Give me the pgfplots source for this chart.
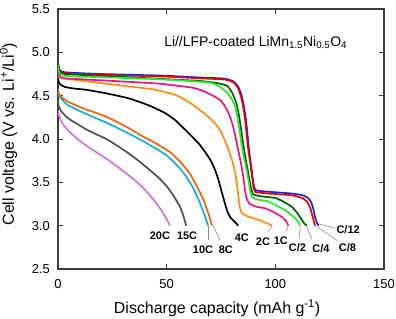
\documentclass[border=0pt]{standalone}
\usepackage{fontspec}
\setmainfont{Liberation Sans}
\usepackage{pgfplots}
\pgfplotsset{compat=1.18}
\definecolor{cC12}{RGB}{35,35,200}
\definecolor{cC8}{RGB}{230,0,0}
\definecolor{cC4}{RGB}{0,95,0}
\definecolor{cC2}{RGB}{40,230,40}
\definecolor{c1C}{RGB}{235,20,130}
\definecolor{c2C}{RGB}{255,140,20}
\definecolor{c4C}{RGB}{0,0,0}
\definecolor{c8C}{RGB}{240,100,10}
\definecolor{c10C}{RGB}{20,170,230}
\definecolor{c15C}{RGB}{80,80,80}
\definecolor{c20C}{RGB}{215,115,215}
\definecolor{axisgray}{RGB}{60,60,60}
\definecolor{leadgray}{RGB}{140,140,140}
\tikzset{
  lab/.style={font=\fontsize{11}{11}\selectfont\bfseries, inner sep=0pt, anchor=center},
  leader/.style={leadgray, line width=0.6pt},
}
\begin{document}
\begin{tikzpicture}
\begin{axis}[
  at={(0,0)}, anchor=south west,
  width=326bp, height=260bp, scale only axis,
  xmin=0, xmax=150, ymin=2.5, ymax=5.5,
  xtick={0,50,100,150}, ytick={2.5,3,3.5,4,4.5,5,5.5},
  /pgf/number format/assume math mode=true,
  tick align=inside, major tick length=5bp,
  tick style={line width=1pt, color=axisgray},
  axis line style={line width=1.4pt, color=axisgray},
  ticklabel style={font=\fontsize{13}{13}\selectfont},
  xticklabel style={yshift=-7bp},
  yticklabel style={xshift=-4.7bp, /pgf/number format/fixed, /pgf/number format/fixed zerofill, /pgf/number format/precision=1},
  label style={font=\fontsize{16}{16}\selectfont},
  xlabel={Discharge capacity (mAh g\textsuperscript{-1})},
  ylabel={Cell voltage (V vs. Li\textsuperscript{+}/Li\textsuperscript{0})},
  xlabel style={at={(axis description cs:0.488,-0.173)}, anchor=base},
  ylabel style={at={(axis description cs:-0.135,0.519)}, anchor=base},
  every axis plot/.append style={line width=1.7pt, no markers, smooth, tension=0.3},
]
% 20C
\addplot[c20C] coordinates {(0,4.33) (0.3,4.28) (2,4.18) (4.6,4.10) (9,4.00) (13.8,3.91) (23,3.76) (30,3.63) (35,3.53) (39,3.44) (42.3,3.35) (45.5,3.25) (48.5,3.14) (50.3,3.06) (51.5,3.0)};
% 15C
\addplot[c15C] coordinates {(0,4.44) (0.3,4.38) (1.5,4.32) (4.6,4.24) (9,4.17) (13.8,4.10) (18,4.05) (23,3.99) (28,3.91) (32.2,3.84) (37,3.75) (42.3,3.64) (46,3.56) (50.2,3.45) (53,3.35) (56.1,3.22) (57.5,3.13) (58.4,3.05) (59,3.0)};
% 10C
\addplot[c10C] coordinates {(0,4.54) (0.4,4.50) (2,4.45) (4.6,4.39) (12,4.30) (23,4.18) (32,4.07) (38,3.99) (45,3.89) (50,3.81) (55,3.69) (59.2,3.56) (62.5,3.42) (65.3,3.26) (67.5,3.12) (69.1,3.0)};
% 8C
\addplot[c8C] coordinates {(0,4.58) (0.4,4.52) (1.8,4.48) (4.6,4.43) (12,4.35) (22,4.26) (30,4.16) (35,4.09) (39,4.03) (43,3.98) (47,3.92) (51.5,3.85) (56.1,3.74) (60.7,3.60) (63.8,3.46) (66.9,3.30) (68.4,3.20) (69.8,3.09) (70.9,3.0)};
% 4C
\addplot[c4C] coordinates {(0,4.72) (0.3,4.66) (1,4.63) (3.2,4.60) (8,4.58) (12.4,4.57) (21.6,4.53) (32.4,4.47) (41.6,4.39) (49.2,4.30) (53.8,4.22) (58.4,4.11) (62,4.02) (65,3.94) (68,3.84) (70.5,3.74) (72.3,3.64) (73.8,3.53) (75,3.42) (76.1,3.32) (77,3.24) (78,3.16) (79.5,3.09) (81.5,3.04) (83,3.0)};
% 2C
\addplot[c2C] coordinates {(0,4.76) (0.4,4.72) (2,4.70) (5,4.69) (12,4.67) (21.6,4.64) (35,4.60) (44.6,4.57) (53.8,4.51) (58,4.46) (62.3,4.39) (66,4.32) (69.9,4.24) (72.5,4.17) (74.6,4.10) (76.3,4.01) (77.8,3.92) (79.2,3.82) (80.5,3.72) (81.6,3.60) (82.4,3.47) (83,3.34) (83.6,3.22) (84.5,3.15) (87,3.11) (92,3.07) (96,3.03) (98.6,3.0)};
% 1C
\addplot[c1C] coordinates {(0,4.80) (0.4,4.74) (1,4.72) (3,4.70) (10,4.69) (25,4.67) (46,4.64) (62.3,4.59) (69,4.53) (74.6,4.45) (77,4.37) (79,4.27) (80.5,4.15) (81.7,4.02) (82.7,3.90) (83.7,3.78) (84.6,3.66) (85.4,3.54) (86,3.42) (86.6,3.33) (87.4,3.28) (88.4,3.25) (91,3.22) (95.3,3.20) (99,3.16) (103,3.10) (105,3.05) (106,3.0)};
% C/12
\addplot[cC12] coordinates {(0,4.89) (0.4,4.82) (1,4.79) (3,4.77) (10,4.76) (20,4.75) (35,4.74) (50,4.73) (65,4.71) (75,4.70) (78,4.69) (81,4.66) (83,4.60) (84.5,4.50) (85.5,4.38) (86.5,4.22) (87.2,4.05) (87.9,3.87) (88.8,3.70) (89.6,3.55) (90.2,3.45) (91,3.41) (93,3.40) (97.6,3.39) (103,3.38) (108,3.37) (112.7,3.35) (115,3.32) (116.5,3.27) (117.5,3.19) (118.3,3.10) (119.2,3.03) (120,3.0)};
% C/8
\addplot[cC8] coordinates {(0,4.88) (0.4,4.81) (1,4.78) (3,4.76) (10,4.75) (20,4.74) (35,4.73) (50,4.72) (65,4.70) (75,4.69) (78,4.68) (81,4.65) (83,4.58) (84.3,4.48) (85.3,4.36) (86.2,4.20) (86.9,4.03) (87.6,3.87) (88.6,3.70) (89.4,3.55) (90,3.44) (90.8,3.39) (93,3.38) (97.6,3.37) (103,3.36) (108,3.35) (111,3.33) (113,3.31) (114.8,3.27) (116,3.21) (117,3.12) (117.7,3.05) (118.3,3.0)};
% C/4
\addplot[cC4] coordinates {(0,4.87) (0.4,4.80) (1,4.77) (3,4.75) (10,4.74) (20,4.73) (35,4.71) (50,4.69) (65,4.67) (72,4.65) (76,4.63) (78,4.61) (80,4.54) (82,4.42) (83.2,4.28) (84.2,4.12) (85.1,3.96) (86,3.82) (87,3.68) (87.9,3.56) (88.6,3.46) (89.2,3.40) (89.9,3.36) (93,3.34) (99.9,3.32) (103.5,3.28) (107.5,3.22) (110,3.15) (112.1,3.07) (113.5,3.02) (114.6,3.0)};
% C/2
\addplot[cC2] coordinates {(0,4.85) (0.4,4.78) (1,4.75) (3,4.73) (10,4.72) (25,4.71) (46,4.69) (60,4.67) (70,4.65) (74,4.61) (77.6,4.54) (80,4.46) (81.5,4.38) (82.6,4.25) (83.5,4.10) (84.4,3.95) (85.3,3.82) (86.3,3.70) (87.2,3.59) (88,3.47) (88.6,3.38) (89.3,3.33) (92,3.30) (96.8,3.28) (100,3.24) (104.5,3.18) (107.5,3.12) (109.8,3.07) (110.8,3.03) (111.4,3.0)};
% title
\node[anchor=base west, inner sep=0pt, font=\fontsize{14}{14}\selectfont] at (axis cs:48.8,5.065) {Li//LFP-coated LiMn\textsubscript{1.5}Ni\textsubscript{0.5}O\textsubscript{4}};
% leaders
\draw[leader] (axis cs:69.2,3.0) -- (axis cs:69.2,2.83);
\draw[leader] (axis cs:71.5,3.0) -- (axis cs:74.5,2.83);
\draw[leader] (axis cs:98.6,3.0) -- (axis cs:96.8,2.93);
\draw[leader] (axis cs:106,3.0) -- (axis cs:104.9,2.93);
\draw[leader] (axis cs:111.4,2.99) -- (axis cs:111,2.85);
\draw[leader] (axis cs:114.4,2.99) -- (axis cs:116.7,2.85);
\draw[leader] (axis cs:118.5,3.0) -- (axis cs:128.3,2.83);
\draw[leader] (axis cs:120,3.02) -- (axis cs:127.5,2.97);
% labels
\node[lab] at (axis cs:46.9,2.88) {20C};
\node[lab] at (axis cs:59.4,2.88) {15C};
\node[lab] at (axis cs:66.7,2.72) {10C};
\node[lab] at (axis cs:77.2,2.72) {8C};
\node[lab] at (axis cs:84.6,2.86) {4C};
\node[lab] at (axis cs:94.3,2.82) {2C};
\node[lab] at (axis cs:102.5,2.83) {1C};
\node[lab] at (axis cs:110.2,2.75) {C/2};
\node[lab] at (axis cs:121,2.74) {C/4};
\node[lab] at (axis cs:133.2,2.75) {C/8};
\node[lab] at (axis cs:133.5,2.95) {C/12};
\end{axis}
\pgfresetboundingbox
\useasboundingbox (-58bp,-50bp) rectangle (338bp,269bp);
\end{tikzpicture}
\end{document}
